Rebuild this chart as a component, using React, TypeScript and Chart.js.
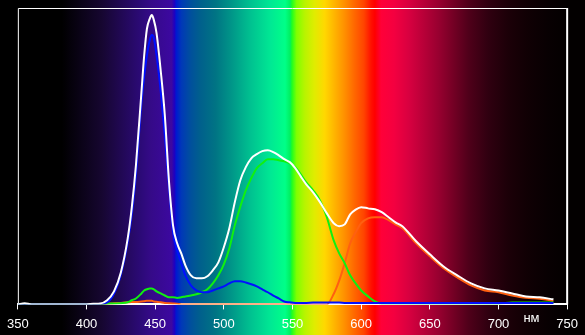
import React, { useEffect, useRef } from "react";
import { Chart, registerables } from "chart.js";

Chart.register(...registerables);

// Wavelength grid, nm
const wavelengths = [
  350, 355, 360, 380, 400,
  405, 410, 415, 420, 425,
  430, 433, 436, 440, 442,
  444, 446, 447.5, 449, 451,
  454, 457, 460, 463, 466,
  469, 472, 476, 480, 484,
  488, 492, 496, 500, 504,
  508, 512, 516, 520, 524,
  528, 532, 536, 540, 544,
  548, 552, 556, 560, 565,
  570, 575, 580, 584, 588,
  592, 596, 600, 605, 610,
  615, 620, 625, 630, 640,
  650, 660, 670, 680, 690,
  700, 710, 720, 730, 740,
];

const whiteValues = [
  0, 0.4, 0, 0, 0,
  0.2, 0.3, 1.4, 4.4, 10.8,
  22.3, 32.8, 47, 71.6, 84,
  93, 96.3, 97.6, 96, 91.5,
  79, 64, 41.9, 26.7, 20.6,
  17.2, 13.2, 9.8, 8.8, 8.8,
  9.5, 11.5, 14.2, 19.3, 25.7,
  34.5, 41.9, 46.3, 49.3, 50.7,
  51.7, 52, 51.4, 50.3, 49,
  48, 46, 43.2, 40.5, 37.8,
  34.5, 30.7, 27.4, 26.4, 27,
  30.4, 32, 32.8, 32.4, 32.1,
  31.1, 29.4, 27.7, 26.4, 21.3,
  16.9, 12.8, 9.8, 7.1, 5.4,
  4.7, 3.7, 2.7, 2.4, 1.7,
];

const blueValues = [
  0, 0, 0, 0, 0,
  0, 0.2, 0.7, 3.6, 10,
  21, 30.5, 44, 68, 77,
  84, 89, 91, 90, 84,
  72, 57, 40, 24.3, 18.2,
  13.9, 9.8, 6.4, 4.7, 4.1,
  4.1, 4.7, 5.4, 6.1, 7.1,
  7.8, 7.8, 7.4, 6.8, 6.1,
  5.1, 4.1, 3, 2, 1,
  0.7, 0.5, 0.5, 0.5, 0.6,
  0.6, 0.6, 0.6, 0.6, 0.5,
  0.5, 0.5, 0.5, 0.5, 0.5,
  0.5, 0.5, 0.5, 0.5, 0.5,
  0.5, 0.5, 0.5, 0.5, 0.5,
  0.5, 0.5, 0.5, 0.5, 0.5,
];

const greenValues = [
  0, 0, 0, 0, 0,
  0, 0, 0.2, 0.3, 0.4,
  0.7, 1.4, 2, 3.7, 4.7,
  5.1, 5.4, 5.4, 5.1, 4.4,
  3.7, 3, 2.4, 2.4, 2.2,
  2.4, 2.7, 3, 3.4, 4.1,
  5.1, 7.1, 9.8, 13.5, 18.9,
  26.7, 33, 38.5, 42.6, 46,
  47.6, 49, 49, 48.6, 48.3,
  47.6, 46.3, 43.9, 41.2, 38.5,
  35.1, 29.4, 21.6, 17.2, 13.9,
  9.8, 7.1, 4.7, 2.7, 1,
  0.3, 0.3, 0.3, 0.3, 0.3,
  0.3, 0.3, 0.3, 0.3, 0.3,
  0.3, 0.6, 0.6, 0.6, 0.6,
];

const orangeValues = [
  0, 0, 0, 0, 0,
  0, 0, 0.2, 0.4, 0.5,
  0.7, 0.8, 0.8, 1, 1.1,
  1.2, 1.2, 1.2, 1, 0.9,
  0.7, 0.5, 0.4, 0.3, 0.2,
  0, 0, 0, 0, 0,
  0, 0, 0, 0, 0,
  0, 0, 0, 0, 0,
  0, 0, 0, 0, 0,
  0, 0, 0, 0, 0,
  0, 0, 3.5, 8, 13.9,
  20.6, 24.3, 27.4, 29, 29.4,
  29.4, 28.4, 27, 25.7, 20.6,
  16.2, 12.2, 9.1, 6.4, 4.7,
  4.1, 3, 2.2, 1.9, 1.2,
];

const xTicks = [350, 400, 450, 500, 550, 600, 650, 700, 750];
const unitLabel = "нм";

// Spectrum background colour stops (wavelength nm, colour)
const spectrumNm = [
  350, 382, 411, 440, 447, 462, 464, 465.3, 469, 476, 483, 494, 505, 519, 534,
  544.6, 548.2, 549.6, 553, 559, 566, 573.4, 580.6, 587.8, 595, 602, 607.3,
  610, 614.5, 623.9, 634.7, 645.5, 656.3, 663.5, 678, 692.3, 706.8, 721.2,
  735.6, 750,
];
const spectrumColors = [
  "#000000", "#000000", "#160630", "#2c0a78", "#350a88", "#3c08a0", "#2000c0",
  "#0018d0", "#0038b8", "#00509c", "#00608c", "#007484", "#009488", "#00c090",
  "#00e894", "#00ff88", "#00f060", "#20ff20", "#80ff00", "#b8f400", "#e0ec00",
  "#ffd800", "#ffb400", "#ff9000", "#ff6800", "#ff4400", "#ff1000", "#ff0000",
  "#ff0038", "#f40040", "#d80040", "#b80038", "#980030", "#800028", "#50001a",
  "#300010", "#1c0008", "#100004", "#080002", "#030000",
];

const toPoints = (vals: number[]) =>
  wavelengths.map((w, i) => ({ x: w, y: vals[i] }));

const spectrumPlugin = {
  id: "spectrumBg",
  beforeDraw(chart: any) {
    const { ctx, width, height } = chart;
    const xs = chart.scales.x;
    ctx.save();
    ctx.fillStyle = "#000000";
    ctx.fillRect(0, 0, width, height);
    const x0 = xs.getPixelForValue(350);
    const x1 = xs.getPixelForValue(750);
    const g = ctx.createLinearGradient(x0, 0, x1, 0);
    spectrumNm.forEach((nm, i) => {
      g.addColorStop((nm - 350) / 400, spectrumColors[i]);
    });
    ctx.fillStyle = g;
    ctx.fillRect(x0, 0, x1 - x0, height);
    ctx.fillStyle = "#030000";
    ctx.fillRect(x1, 0, width - x1, height);
    ctx.restore();
  },
  beforeDatasetsDraw(chart: any) {
    const { ctx, chartArea } = chart;
    ctx.save();
    ctx.strokeStyle = "#ffffff";
    ctx.lineWidth = 1;
    ctx.beginPath();
    ctx.moveTo(chartArea.left + 0.5, chartArea.bottom);
    ctx.lineTo(chartArea.left + 0.5, chartArea.top + 0.5);
    ctx.lineTo(chartArea.right - 0.5, chartArea.top + 0.5);
    ctx.stroke();
    ctx.lineWidth = 2;
    ctx.beginPath();
    ctx.moveTo(chartArea.right, chartArea.top);
    ctx.lineTo(chartArea.right, chartArea.bottom);
    ctx.stroke();
    ctx.restore();
  },
  afterDraw(chart: any) {
    const { ctx } = chart;
    const xs = chart.scales.x;
    ctx.save();
    ctx.fillStyle = "#ffffff";
    ctx.font = "13px 'Liberation Sans', Arial, sans-serif";
    ctx.textAlign = "center";
    ctx.textBaseline = "middle";
    ctx.fillText(unitLabel, xs.getPixelForValue(724), chart.chartArea.bottom + 14);
    ctx.restore();
  },
};

export default function App() {
  const ref = useRef<HTMLCanvasElement | null>(null);

  useEffect(() => {
    document.body.style.margin = "0";
    document.body.style.background = "#000";
    const canvas = ref.current;
    if (!canvas) return;
    const lineDs = (label: string, vals: number[], color: string, w: number) => ({
      label,
      data: toPoints(vals),
      borderColor: color,
      borderWidth: w,
      pointRadius: 0,
      fill: false,
      cubicInterpolationMode: "monotone" as const,
    });
    const chart = new Chart(canvas, {
      type: "line",
      data: {
        datasets: [
          lineDs("white", whiteValues, "#ffffff", 2),
          lineDs("blue", blueValues, "#0010ff", 2),
          lineDs("green", greenValues, "#10f010", 2),
          lineDs("orange", orangeValues, "#ff6010", 2),
        ],
      },
      options: {
        responsive: false,
        animation: false,
        devicePixelRatio: 1,
        layout: { padding: { left: 15, right: 15, top: 8, bottom: -4 } },
        plugins: {
          legend: { display: false },
          tooltip: { enabled: false },
        },
        scales: {
          x: {
            type: "linear",
            min: 350,
            max: 750,
            afterBuildTicks: (axis: any) => {
              axis.ticks = xTicks.map((v) => ({ value: v }));
            },
            ticks: {
              color: "#ffffff",
              autoSkip: false,
              maxRotation: 0,
              padding: 7,
              font: { family: "'Liberation Sans', Arial, sans-serif", size: 13 },
            },
            grid: {
              display: true,
              drawOnChartArea: false,
              drawTicks: true,
              tickLength: 5,
              color: "#ffffff",
            },
            border: { display: true, color: "#ffffff", width: 2 },
          },
          y: {
            display: false,
            min: 0,
            max: 100,
          },
        },
      },
      plugins: [spectrumPlugin],
    });
    return () => chart.destroy();
  }, []);

  return (
    <div style={{ width: 585, height: 335, background: "#000" }}>
      <canvas ref={ref} width={585} height={335} />
    </div>
  );
}
